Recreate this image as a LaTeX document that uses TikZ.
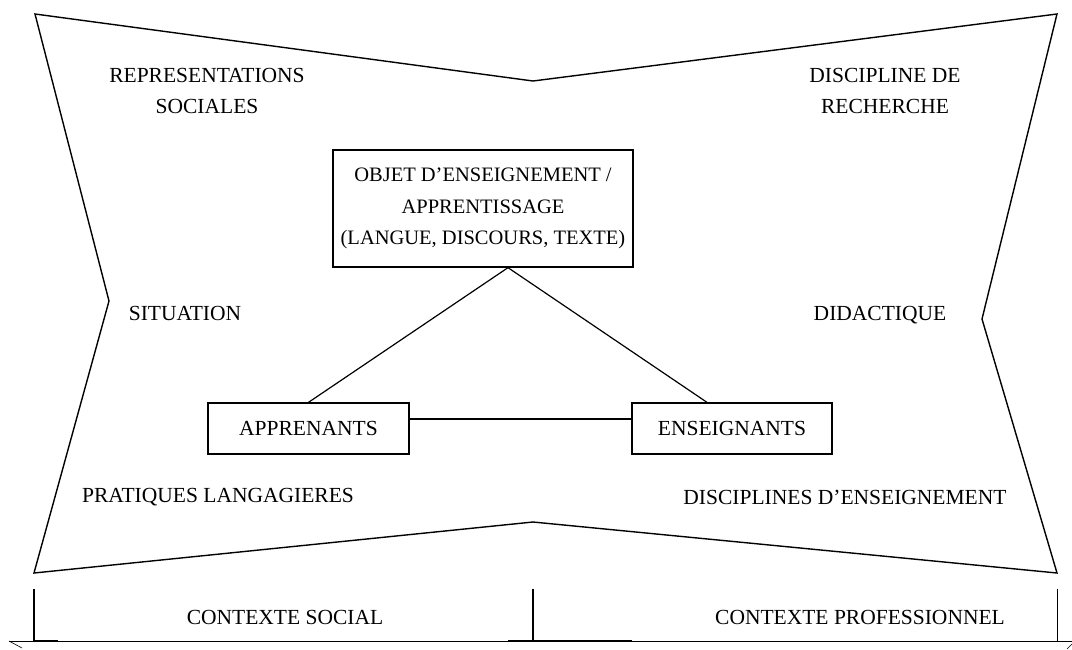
\documentclass[tikz,border=0pt]{standalone}
\usepackage{fontspec}
\setmainfont{Liberation Serif}
\begin{document}
\begin{tikzpicture}[x=1pt, y=-1pt, line width=1.4pt,
	every node/.style={font=\fontsize{21.5}{31.5}\selectfont, align=center},
	cadre/.style={draw, line width=1.3pt, inner sep=0pt}]
	\useasboundingbox (0,0) rectangle (1072,649);
	% contour du schema
	\coordinate (hg) at (35,14);
	\coordinate (hm) at (533,81);
	\coordinate (hd) at (1057,14);
	\coordinate (md) at (982,319);
	\coordinate (bd) at (1057,573);
	\coordinate (bm) at (533,522);
	\coordinate (bg) at (34,573);
	\coordinate (mg) at (109,301);
	\draw (hg) -- (hm) -- (hd) -- (md) -- (bd) -- (bm) -- (bg) -- (mg) -- cycle;

	\node (repr) at (207,91) {REPRESENTATIONS\\SOCIALES};
	\node (recherche) at (885,91) {DISCIPLINE DE\\RECHERCHE};
	\node (situation) at (185,313) {SITUATION};
	\node (didactique) at (880,315) {DIDACTIQUE};
	\node (pratiques) at (218,497) {PRATIQUES LANGAGIERES};
	\node (disciplines) at (845,497) {DISCIPLINES D’ENSEIGNEMENT};

	% triangle didactique
	\node[cadre, minimum width=300pt, minimum height=117pt, font=\fontsize{20.5}{31.5}\selectfont] (objet) at (483,208.5)
		{OBJET D’ENSEIGNEMENT /\\APPRENTISSAGE\\(LANGUE, DISCOURS, TEXTE)};
	\node[cadre, minimum width=201pt, minimum height=51pt] (apprenants) at (308.5,428.5) {APPRENANTS};
	\node[cadre, minimum width=200pt, minimum height=51pt] (enseignants) at (732,428.5) {ENSEIGNANTS};
	\coordinate (sommet) at ([xshift=25pt]objet.south);
	\draw[line width=1.2pt] (apprenants.north) -- (sommet) -- ([xshift=-25pt]enseignants.north);
	\draw[line width=1.2pt] ([yshift=9.5pt]apprenants.east) -- ([yshift=9.5pt]enseignants.west);

	% contextes
	\draw[line width=0.9pt] (9,641) -- (1072,641);
	\draw (34,589) -- (34,641);
	\draw (533,589) -- (533,641);
	\draw[line width=0.8pt] (1057,589) -- (1057,641);
	\draw[line width=2.2pt] (34,641) -- (58,641);
	\draw[line width=2.2pt] (508,641) -- (632,641);
	\draw[line width=0.6pt] (9,641) -- (22,648);
	\draw[line width=0.6pt] (1072,644) -- (1067,649);
	\node (social) at (285,617) {CONTEXTE SOCIAL};
	\node (professionnel) at (860,617) {CONTEXTE PROFESSIONNEL};
\end{tikzpicture}
\end{document}
